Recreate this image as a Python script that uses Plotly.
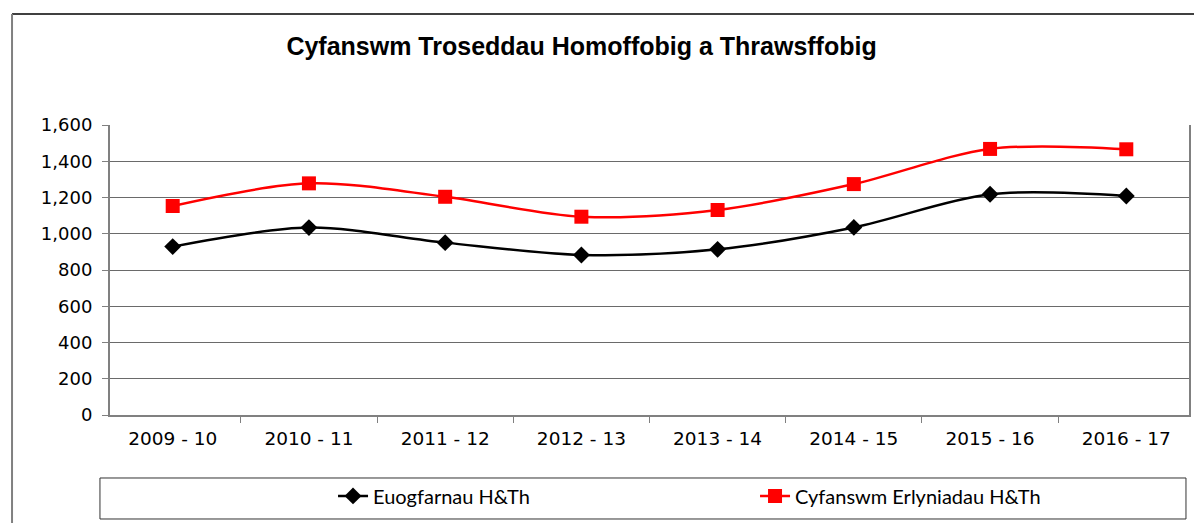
import plotly.graph_objects as go

categories = ["2009 - 10", "2010 - 11", "2011 - 12", "2012 - 13", "2013 - 14", "2014 - 15", "2015 - 16", "2016 - 17"]
euogfarnau = [929, 1034, 951, 883, 914, 1035, 1218, 1208]
erlyniadau = [1153, 1278, 1204, 1094, 1131, 1274, 1468, 1466]
y_ticks = [0, 200, 400, 600, 800, 1000, 1200, 1400, 1600]

fig = go.Figure()
fig.add_trace(go.Scatter(
    x=categories, y=euogfarnau, name="Euogfarnau H&Th",
    mode="lines+markers", line=dict(color="black", width=2.5, shape="spline", smoothing=0.9),
    marker=dict(symbol="diamond", size=13, color="black"),
))
fig.add_trace(go.Scatter(
    x=categories, y=erlyniadau, name="Cyfanswm Erlyniadau H&Th",
    mode="lines+markers", line=dict(color="#ff0000", width=2.5, shape="spline", smoothing=0.9),
    marker=dict(symbol="square", size=14, color="#ff0000"),
))

fig.update_layout(
    width=1186, height=515,
    margin=dict(l=102, r=5, t=117, b=108, autoexpand=False),
    paper_bgcolor="white", plot_bgcolor="white",
    font=dict(family="DejaVu Sans, Liberation Sans, sans-serif", color="black", size=18),
    title=dict(text="<b>Cyfanswm Troseddau Homoffobig a Thrawsffobig</b>",
               xref="container", x=0.4836, xanchor="center",
               yref="container", y=0.926, yanchor="middle",
               font=dict(family="Liberation Sans, Arial, sans-serif", size=25, color="black")),
    showlegend=True,
    legend=dict(orientation="h", x=0.2067, xanchor="left", y=-0.279, yanchor="middle",
                font=dict(family="Lato, Open Sans, sans-serif", size=20),
                entrywidth=377, entrywidthmode="pixels", bgcolor="rgba(0,0,0,0)"),
    xaxis=dict(type="category", showline=True, linecolor="#808080", linewidth=2,
               ticks="outside", tickson="boundaries", ticklen=6, tickcolor="#808080",
               showgrid=False, tickfont=dict(size=18.5), ticklabelstandoff=6),
    yaxis=dict(range=[0, 1600], tickvals=y_ticks, tickformat=",", showline=True, mirror=True,
               linecolor="#808080", linewidth=2, ticks="outside", ticklen=6, tickcolor="#808080",
               gridcolor="#6a6a6a", gridwidth=1.2, zeroline=False, tickfont=dict(size=18),
               ticklabelstandoff=6),
    shapes=[
        dict(type="line", xref="paper", yref="paper", x0=-0.0908, x1=1.02, y0=1.3828, y1=1.3828,
             line=dict(color="black", width=1.5)),
        dict(type="line", xref="paper", yref="paper", x0=-0.0908, x1=-0.0908, y0=1.3828, y1=-0.45,
             line=dict(color="#808080", width=2)),
        dict(type="rect", xref="paper", yref="paper", x0=-0.0093, x1=0.9972, y0=-0.2172, y1=-0.3586,
             line=dict(color="#333333", width=1)),
    ],
)

fig.write_html("out.html")
